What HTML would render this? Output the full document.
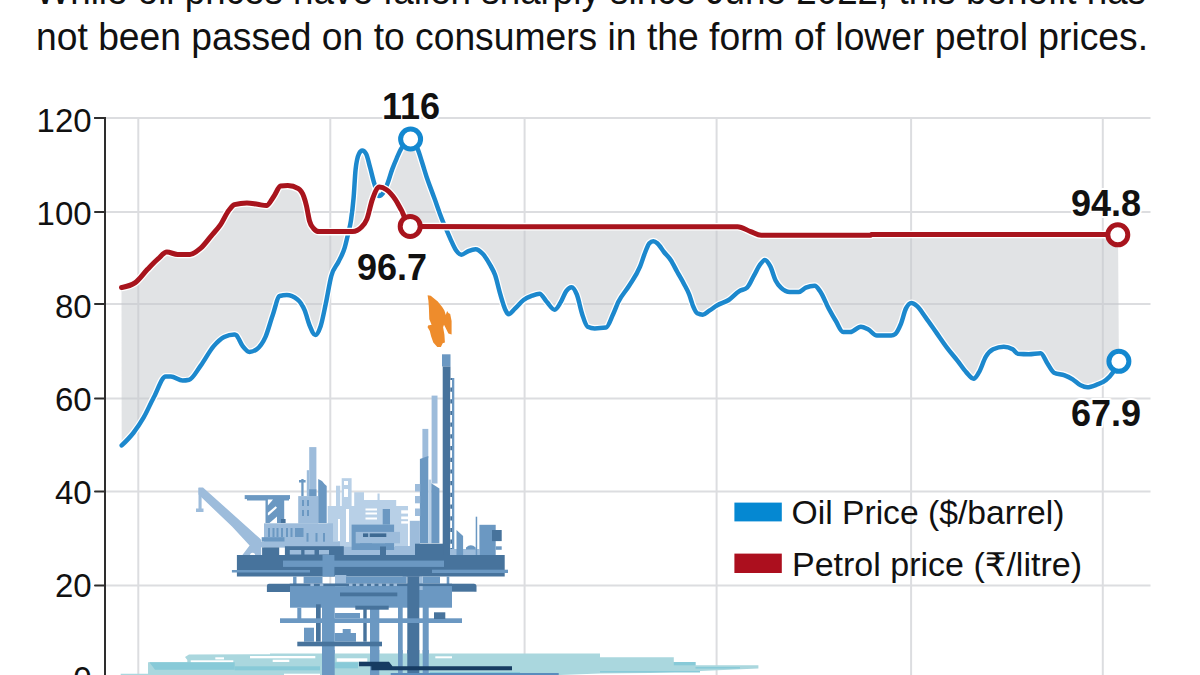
<!DOCTYPE html>
<html><head><meta charset="utf-8"><title>Oil vs petrol prices</title>
<style>
html,body{margin:0;padding:0;background:#fff;width:1200px;height:675px;overflow:hidden}
svg{display:block}
text{font-family:"Liberation Sans","DejaVu Sans",sans-serif}
</style></head><body>
<svg width="1200" height="675" viewBox="0 0 1200 675">
<g fill="#111">
<text x="35.5" y="3.8" font-size="38" textLength="1110.5" lengthAdjust="spacingAndGlyphs">While oil prices have fallen sharply since June 2022, this benefit has</text>
<text x="36" y="49.6" font-size="38" textLength="1112" lengthAdjust="spacingAndGlyphs">not been passed on to consumers in the form of lower petrol prices.</text>
</g>
<g stroke="#dcdde0" stroke-width="2">
<line x1="106" y1="117.9" x2="1150.5" y2="117.9"/>
<line x1="106" y1="211.9" x2="1150.5" y2="211.9"/>
<line x1="106" y1="304.1" x2="1150.5" y2="304.1"/>
<line x1="106" y1="398.5" x2="1150.5" y2="398.5"/>
<line x1="106" y1="491.5" x2="1150.5" y2="491.5"/>
<line x1="106" y1="585.5" x2="1150.5" y2="585.5"/>
<line x1="138.3" y1="118" x2="138.3" y2="675"/>
<line x1="330.3" y1="118" x2="330.3" y2="675"/>
<line x1="524.6" y1="118" x2="524.6" y2="675"/>
<line x1="716.6" y1="118" x2="716.6" y2="675"/>
<line x1="911.1" y1="118" x2="911.1" y2="675"/>
<line x1="1102.8" y1="118" x2="1102.8" y2="675"/>
</g>
<path d="M121.5,287.5 C126.0,286.7 130.4,286.0 134.9,282.9 C139.0,280.1 143.2,273.9 147.3,269.6 C150.9,265.9 154.4,262.0 158.0,258.9 C161.0,256.3 163.9,252.1 166.9,252.1 C170.5,252.1 174.0,254.4 177.6,254.4 C181.7,254.4 185.9,254.4 190.0,254.4 C193.6,254.4 197.1,251.3 200.7,248.2 C204.2,245.1 207.8,240.0 211.3,235.8 C214.3,232.3 217.2,229.4 220.2,225.1 C223.2,220.8 226.1,213.7 229.1,210.0 C230.9,207.8 232.6,205.2 234.4,204.7 C238.6,203.5 242.7,202.9 246.9,202.9 C250.5,202.9 254.0,203.8 257.6,204.3 C260.5,204.7 263.5,205.6 266.4,205.6 C268.8,205.6 271.2,200.0 273.6,196.7 C276.0,193.5 278.3,186.3 280.7,186.0 C283.1,185.7 285.4,185.6 287.8,185.6 C291.3,185.6 294.9,186.6 298.4,188.7 C300.2,189.8 302.0,191.7 303.8,196.7 C304.7,199.2 305.6,202.2 306.5,206.0 C307.5,210.2 308.5,217.3 309.5,221.0 C310.9,226.0 312.2,226.9 313.6,228.5 C315.4,230.6 317.1,231.6 318.9,231.6 C330.2,231.6 341.4,231.6 352.7,231.6 C355.7,231.6 358.6,230.1 361.6,227.1 C363.4,225.3 365.1,223.6 366.9,219.1 C368.7,214.5 370.5,204.7 372.3,199.6 C374.7,192.9 377.0,187.1 379.4,187.1 C381.8,187.1 384.1,188.1 386.5,189.8 C389.5,191.9 392.4,195.2 395.4,199.6 C397.4,202.5 399.3,206.5 401.3,210.0 C404.3,215.4 407.2,226.6 410.2,226.6 C519.3,226.7 628.5,226.7 737.6,226.8 C742.0,226.8 746.3,230.0 750.7,231.6 C754.2,232.9 757.8,235.3 761.3,235.3 C797.7,235.3 834.1,235.3 870.5,235.3 C870.8,235.3 871.2,234.5 871.5,234.5 C953.7,234.5 1035.8,234.6 1118.0,234.6 L1118.9,361.3 C1116.8,365.5 1114.8,369.6 1112.7,372.7 C1110.5,376.0 1108.2,378.1 1106.0,380.0 C1102.9,382.6 1099.8,383.5 1096.7,384.7 C1093.6,385.9 1090.4,387.3 1087.3,387.3 C1085.1,387.3 1082.9,386.4 1080.7,385.3 C1078.0,384.0 1075.4,381.0 1072.7,379.3 C1070.0,377.6 1067.4,376.3 1064.7,375.3 C1061.1,373.9 1057.6,374.4 1054.0,372.7 C1051.8,371.6 1049.5,366.6 1047.3,363.3 C1045.1,360.1 1042.9,353.3 1040.7,353.3 C1036.7,353.3 1032.7,354.3 1028.7,354.3 C1025.1,354.3 1021.6,354.1 1018.0,353.8 C1016.2,353.6 1014.5,350.3 1012.7,349.3 C1009.7,347.6 1006.8,346.7 1003.8,346.7 C1000.2,346.7 996.7,347.6 993.1,349.3 C990.7,350.5 988.4,352.6 986.0,356.4 C983.6,360.2 981.3,368.5 978.9,372.4 C977.1,375.3 975.4,378.7 973.6,378.7 C971.2,378.7 968.8,375.0 966.4,372.4 C963.5,369.3 960.5,364.6 957.6,360.9 C954.0,356.3 950.5,352.4 946.9,347.6 C943.3,342.9 939.8,337.5 936.2,332.4 C932.7,327.4 929.1,322.1 925.6,317.3 C922.6,313.3 919.7,308.2 916.7,305.8 C914.9,304.4 913.1,303.1 911.3,303.1 C909.5,303.1 907.8,304.9 906.0,308.4 C904.2,311.9 902.5,320.2 900.7,324.4 C898.9,328.7 897.1,332.6 895.3,334.0 C893.9,335.1 892.5,335.6 891.1,335.6 C886.4,335.6 881.6,335.6 876.9,335.6 C873.9,335.6 871.0,330.8 868.0,329.3 C865.6,328.1 863.3,326.7 860.9,326.7 C857.3,326.7 853.8,332.0 850.2,332.0 C847.8,332.0 845.5,332.0 843.1,332.0 C840.7,332.0 838.4,325.2 836.0,321.3 C833.6,317.4 831.3,313.3 828.9,308.9 C825.9,303.4 823.0,295.2 820.0,291.1 C818.2,288.7 816.5,285.8 814.7,285.8 C811.7,285.8 808.8,286.4 805.8,287.6 C803.4,288.6 801.1,292.0 798.7,292.0 C795.7,292.0 792.8,292.0 789.8,292.0 C786.8,292.0 783.9,290.5 780.9,287.6 C779.1,285.9 777.4,283.9 775.6,280.4 C773.8,276.8 772.0,269.6 770.2,266.2 C768.4,262.9 766.7,260.0 764.9,260.0 C763.1,260.0 761.4,262.8 759.6,265.3 C757.8,267.8 756.0,271.9 754.2,275.1 C751.8,279.3 749.5,285.5 747.1,287.6 C744.5,289.9 741.9,289.5 739.3,291.1 C735.8,293.3 732.2,297.7 728.7,300.0 C724.9,302.5 721.1,303.1 717.3,305.3 C714.6,306.9 712.0,309.0 709.3,310.7 C707.1,312.1 704.9,314.7 702.7,314.7 C700.9,314.7 699.1,314.2 697.3,313.3 C696.0,312.6 694.6,309.8 693.3,306.7 C692.0,303.6 690.6,298.1 689.3,294.7 C687.5,290.1 685.8,287.4 684.0,284.0 C681.8,279.7 679.5,276.0 677.3,272.0 C675.1,268.0 672.9,263.3 670.7,260.0 C668.5,256.6 666.2,254.8 664.0,252.0 C661.8,249.2 659.5,245.1 657.3,243.3 C656.0,242.2 654.6,241.3 653.3,241.3 C652.0,241.3 650.6,242.0 649.3,243.3 C648.0,244.6 646.6,248.8 645.3,252.0 C643.5,256.3 641.8,262.4 640.0,266.7 C636.4,275.6 632.7,279.9 629.1,285.8 C625.5,291.6 622.0,294.5 618.4,301.8 C616.6,305.4 614.9,310.4 613.1,314.2 C610.7,319.3 608.4,327.3 606.0,327.6 C602.2,328.1 598.5,328.4 594.7,328.4 C592.3,328.4 590.0,327.8 587.6,326.7 C585.8,325.8 584.0,319.6 582.2,314.2 C580.4,308.9 578.7,299.2 576.9,294.7 C575.1,290.2 573.4,287.2 571.6,287.2 C569.8,287.2 568.0,288.6 566.2,291.1 C564.4,293.5 562.7,298.8 560.9,301.8 C558.8,305.3 556.8,309.8 554.7,309.8 C552.0,309.8 549.4,304.6 546.7,301.8 C544.3,299.3 542.0,293.8 539.6,293.8 C537.2,293.8 534.8,294.7 532.4,295.6 C529.5,296.7 526.5,297.8 523.6,300.0 C520.6,302.2 517.7,306.2 514.7,308.9 C512.6,310.8 510.5,314.2 508.4,314.2 C507.5,314.2 506.7,312.3 505.8,310.7 C504.0,307.3 502.2,300.7 500.4,294.7 C498.6,288.8 496.9,280.2 495.1,275.1 C493.3,270.0 491.6,267.6 489.8,264.4 C487.4,260.2 485.1,256.3 482.7,253.8 C480.3,251.3 478.0,249.3 475.6,249.3 C473.2,249.3 470.8,250.2 468.4,251.1 C466.0,252.0 463.7,254.7 461.3,254.7 C459.5,254.7 457.8,252.7 456.0,250.2 C454.2,247.7 452.5,243.4 450.7,239.6 C448.9,235.7 447.1,231.3 445.3,227.1 C444.3,224.7 443.2,222.4 442.2,219.8 C439.6,213.4 437.0,205.4 434.4,198.3 C433.3,195.3 432.2,192.4 431.1,189.4 C429.6,185.4 428.2,181.6 426.7,177.2 C425.2,172.7 423.7,167.5 422.2,162.8 C420.7,158.2 419.3,153.0 417.8,149.4 C415.4,143.6 413.0,139.2 410.6,139.2 C407.4,139.2 404.3,143.3 401.1,148.9 C399.6,151.5 398.2,154.9 396.7,158.3 C395.2,161.7 393.7,165.3 392.2,169.4 C390.7,173.4 389.3,178.9 387.8,182.8 C386.3,186.8 384.8,190.6 383.3,192.8 C381.8,195.0 380.4,196.1 378.9,196.1 C377.4,196.1 375.9,188.8 374.4,183.9 C372.9,179.1 371.5,172.5 370.0,167.2 C368.7,162.5 367.4,156.1 366.1,153.9 C364.8,151.7 363.5,150.6 362.2,150.6 C361.1,150.6 360.0,151.7 358.9,153.9 C357.8,156.1 356.7,159.1 355.6,169.4 C354.9,175.7 354.3,189.9 353.6,197.8 C352.7,208.4 351.8,215.0 350.9,220.9 C350.0,226.8 349.1,229.5 348.2,233.4 C347.0,238.5 345.9,243.6 344.7,247.6 C342.6,254.7 340.6,257.4 338.5,261.8 C336.1,266.9 333.7,267.1 331.3,276.0 C329.5,282.7 327.7,294.7 325.9,303.1 C324.1,311.4 322.4,320.9 320.6,326.2 C318.8,331.5 317.1,335.1 315.3,335.1 C313.5,335.1 311.7,330.4 309.9,326.2 C308.1,322.1 306.4,314.4 304.6,310.2 C302.2,304.6 299.9,301.4 297.5,299.5 C293.9,296.6 290.4,295.1 286.8,295.1 C284.4,295.1 282.1,295.4 279.7,296.0 C277.3,296.6 275.0,308.7 272.6,315.5 C270.2,322.3 267.9,331.4 265.5,336.8 C262.5,343.6 259.6,347.1 256.6,349.3 C254.2,351.0 251.9,351.9 249.5,351.9 C247.1,351.9 244.8,348.8 242.4,345.7 C240.3,343.0 238.3,336.5 236.2,335.1 C235.6,334.7 235.0,334.4 234.4,334.4 C231.0,334.4 227.5,335.3 224.1,337.0 C220.6,338.8 217.2,342.1 213.7,346.1 C209.4,351.1 205.0,359.7 200.7,365.6 C196.8,370.8 193.0,378.8 189.1,379.8 C186.9,380.3 184.8,380.6 182.6,380.6 C178.7,380.6 174.8,376.4 170.9,376.4 C169.2,376.4 167.4,376.4 165.7,376.4 C161.8,376.4 158.0,389.4 154.1,396.7 C150.6,403.2 147.2,411.3 143.7,417.4 C140.2,423.4 136.8,428.5 133.3,433.0 C129.4,438.0 125.6,441.7 121.7,445.4 Z" fill="#c4c7cc" fill-opacity="0.5"/>
<g id="rig">
<rect x="327.7" y="506.0" width="72.3" height="49.0" fill="#b8d0e7"/>
<rect x="336.0" y="485.7" width="4.2" height="20.3" fill="#b8d0e7"/>
<rect x="341.7" y="478.2" width="9.9" height="27.8" fill="#b8d0e7"/>
<rect x="354.2" y="492.2" width="9.8" height="13.8" fill="#b8d0e7"/>
<rect x="364.0" y="500.0" width="32.2" height="6.0" fill="#b8d0e7"/>
<rect x="377.5" y="493.5" width="2.1" height="6.5" fill="#b8d0e7"/>
<rect x="395.0" y="506.0" width="13.0" height="42.0" fill="#b8d0e7"/>
<rect x="395.0" y="546.0" width="20.0" height="9.0" fill="#9dbcdb"/>
<rect x="401.2" y="510.3" width="7.3" height="3.3" fill="#ffffff"/>
<rect x="401.2" y="516.5" width="7.3" height="2.7" fill="#ffffff"/>
<rect x="401.2" y="521.2" width="7.3" height="2.4" fill="#ffffff"/>
<rect x="327.7" y="546.8" width="67.3" height="8.2" fill="#9dbcdb"/>
<rect x="344.0" y="481.0" width="4.0" height="4.0" fill="#ffffff"/>
<rect x="344.0" y="489.0" width="4.0" height="8.0" fill="#ffffff"/>
<rect x="338.0" y="519.0" width="2.0" height="22.0" fill="#ffffff"/>
<rect x="346.0" y="509.0" width="3.0" height="33.0" fill="#ffffff"/>
<rect x="365.5" y="508.5" width="11.5" height="2.0" fill="#ffffff"/>
<rect x="365.5" y="512.5" width="11.5" height="2.0" fill="#ffffff"/>
<rect x="365.5" y="517.5" width="11.5" height="2.0" fill="#ffffff"/>
<polygon points="198.5,487.5 203.0,487.5 260.0,538.5 261.2,540.0 261.2,555.1 242.4,555.1 249.6,545.5 232.0,526.6 198.5,494.5" fill="#9dbcdb"/>
<circle cx="252.6" cy="555.3" r="2.6" fill="#fff"/>
<rect x="198.5" y="488.0" width="3.1" height="23.0" fill="#9dbcdb"/>
<rect x="196.0" y="508.5" width="7.5" height="3.5" fill="#9dbcdb"/>
<rect x="244.7" y="495.1" width="45.3" height="4.0" fill="#6b98c2"/>
<rect x="247.0" y="499.0" width="42.0" height="1.5" fill="#6b98c2"/>
<rect x="265.5" y="499.5" width="18.7" height="23.5" fill="#6b98c2"/>
<polygon points="267.9,499.5 273.0,499.5 267.9,505.5" fill="#ffffff"/>
<polygon points="267.9,512.8 275.6,506.3 277.0,507.8 268.7,515.3 267.9,515.3" fill="#ffffff"/>
<polygon points="269.5,523.0 277.0,516.5 277.0,523.0" fill="#ffffff"/>
<rect x="280.9" y="519.0" width="4.7" height="4.0" fill="#47739c"/>
<rect x="306.8" y="470.2" width="2.4" height="25.9" fill="#9dbcdb"/>
<rect x="309.2" y="447.1" width="7.2" height="49.0" fill="#9dbcdb"/>
<rect x="309.2" y="489.3" width="7.2" height="7.3" fill="#6b98c2"/>
<rect x="301.3" y="479.0" width="2.3" height="17.1" fill="#6b98c2"/>
<rect x="299.0" y="480.0" width="6.6" height="2.5" fill="#6b98c2"/>
<polygon points="318.2,479.0 322.0,481.0 324.5,484.0 326.7,486.0 326.7,523.0 318.2,523.0" fill="#6b98c2"/>
<rect x="298.2" y="496.1" width="19.8" height="27.5" fill="#9dbcdb"/>
<rect x="302.0" y="500.0" width="2.0" height="6.0" fill="#6b98c2"/>
<rect x="307.0" y="500.0" width="2.0" height="6.0" fill="#6b98c2"/>
<rect x="302.0" y="510.0" width="2.0" height="6.0" fill="#6b98c2"/>
<rect x="307.0" y="510.0" width="2.0" height="6.0" fill="#6b98c2"/>
<rect x="264.0" y="523.3" width="69.0" height="24.1" fill="#9dbcdb"/>
<rect x="268.0" y="528.0" width="2.0" height="9.0" fill="#6b98c2"/>
<rect x="272.5" y="528.0" width="2.0" height="9.0" fill="#6b98c2"/>
<rect x="276.5" y="528.0" width="2.0" height="9.0" fill="#6b98c2"/>
<rect x="281.0" y="528.0" width="2.0" height="9.0" fill="#6b98c2"/>
<rect x="286.0" y="528.0" width="2.0" height="9.0" fill="#6b98c2"/>
<rect x="290.5" y="528.0" width="2.0" height="9.0" fill="#6b98c2"/>
<rect x="295.0" y="528.0" width="2.0" height="9.0" fill="#6b98c2"/>
<rect x="301.5" y="528.0" width="2.0" height="9.0" fill="#6b98c2"/>
<rect x="296.0" y="528.0" width="6.0" height="9.0" fill="#6b98c2"/>
<rect x="306.5" y="533.0" width="2.0" height="13.0" fill="#6b98c2"/>
<rect x="315.5" y="533.0" width="2.0" height="13.0" fill="#6b98c2"/>
<rect x="323.0" y="533.0" width="2.0" height="13.0" fill="#6b98c2"/>
<rect x="261.7" y="537.2" width="22.8" height="4.5" fill="#6b98c2"/>
<rect x="260.9" y="541.7" width="79.1" height="5.7" fill="#9dbcdb"/>
<rect x="262.1" y="547.4" width="17.1" height="7.7" fill="#47739c"/>
<rect x="284.9" y="546.2" width="58.9" height="8.9" fill="#47739c"/>
<rect x="289.8" y="550.0" width="11.4" height="4.5" fill="#9dbcdb"/>
<rect x="304.5" y="550.0" width="10.0" height="4.5" fill="#9dbcdb"/>
<rect x="319.0" y="550.0" width="10.0" height="4.5" fill="#9dbcdb"/>
<rect x="351.6" y="524.6" width="42.5" height="25.4" fill="#6b98c2"/>
<rect x="382.7" y="509.0" width="7.3" height="15.6" fill="#6b98c2"/>
<rect x="355.7" y="531.9" width="44.3" height="11.4" fill="#9dbcdb"/>
<rect x="363.0" y="533.4" width="5.2" height="3.6" fill="#3e6a93"/>
<rect x="369.7" y="533.4" width="16.6" height="3.6" fill="#3e6a93"/>
<rect x="360.0" y="543.3" width="12.0" height="6.7" fill="#6b98c2"/>
<rect x="385.0" y="543.3" width="9.0" height="6.7" fill="#6b98c2"/>
<rect x="380.0" y="546.5" width="6.0" height="8.5" fill="#47739c"/>
<rect x="422.4" y="428.9" width="5.9" height="29.1" fill="#9dbcdb"/>
<rect x="431.6" y="395.6" width="5.9" height="87.9" fill="#9dbcdb"/>
<polygon points="419.9,458.9 428.3,455.9 428.3,543.3 419.9,543.3" fill="#6b98c2"/>
<rect x="428.3" y="479.6" width="3.0" height="63.7" fill="#b8d0e7"/>
<polygon points="431.3,483.3 439.4,488.5 439.4,543.3 431.3,543.3" fill="#6b98c2"/>
<rect x="409.8" y="520.8" width="10.1" height="27.2" fill="#9dbcdb"/>
<rect x="415.0" y="484.0" width="5.2" height="7.5" fill="#9dbcdb"/>
<rect x="415.0" y="496.0" width="5.2" height="7.3" fill="#9dbcdb"/>
<rect x="415.0" y="508.5" width="5.2" height="7.5" fill="#9dbcdb"/>
<rect x="442.0" y="354.3" width="8.5" height="12.2" fill="#6b98c2"/>
<rect x="442.7" y="366.5" width="7.8" height="188.5" fill="#47739c"/>
<rect x="450.5" y="378.0" width="1.5" height="177.0" fill="#47739c"/>
<rect x="452.0" y="378.0" width="2.3" height="177.0" fill="#6b98c2"/>
<line x1="451.1" y1="380" x2="451.1" y2="548" stroke="#ffffff" stroke-width="1.8" stroke-dasharray="7.5,4.2"/>
<polygon points="427.6,295.3 430.7,295.8 437.8,301.6 442.2,306.9 444.4,310.4 445.8,314.9 447.1,310.9 448.4,313.1 450.2,314 451.6,321.1 451.6,334.4 448.4,333.6 445.8,328.2 444,324.7 443.1,327.3 444.4,334.4 444.9,342.4 442.7,343.3 440.9,346.9 437.3,346.9 433.3,342.4 431.1,336.2 429.8,330.9 427.6,327.3 428,325.6 431.6,324.7 429.3,319.3 428.9,307.8 428.4,300.7" fill="#ee8c2c"/>
<rect x="415.0" y="543.7" width="28.9" height="11.3" fill="#47739c"/>
<rect x="450.0" y="549.0" width="29.4" height="6.0" fill="#9dbcdb"/>
<polygon points="456.5,530.0 463.1,536.0 463.1,555.0 456.5,555.0" fill="#6b98c2"/>
<rect x="475.7" y="516.7" width="1.5" height="38.3" fill="#6b98c2"/>
<path d="M466,549.5 L466,547.5 Q470.8,543 475.7,547.5 L475.7,549.5 Z" fill="#6b98c2"/>
<rect x="479.4" y="524.8" width="16.3" height="30.2" fill="#6b98c2"/>
<rect x="492.0" y="530.0" width="9.7" height="11.1" fill="#47739c"/>
<rect x="495.7" y="546.3" width="6.0" height="3.5" fill="#6b98c2"/>
<rect x="236.9" y="555.0" width="267.8" height="21.5" fill="#47739c"/>
<rect x="283.0" y="560.6" width="161.0" height="6.3" fill="#6b98c2"/>
<rect x="231.9" y="570.0" width="78.1" height="2.5" fill="#6b98c2"/>
<rect x="432.0" y="569.7" width="76.0" height="3.3" fill="#6b98c2"/>
<rect x="322.5" y="555.0" width="11.9" height="21.5" fill="#6b98c2"/>
<rect x="402.7" y="567.0" width="19.3" height="9.5" fill="#47739c"/>
<path d="M269,583.8 H290 V591.9 H266.9 V586 Q266.9,583.8 269,583.8 Z" fill="#47739c"/>
<rect x="290.0" y="585.7" width="162.0" height="22.0" fill="#6b98c2"/>
<rect x="452.0" y="583.7" width="22.0" height="8.0" fill="#47739c"/>
<path d="M474,583.7 Q476.5,583.7 476.5,586.5 V591.7 H474 Z" fill="#47739c"/>
<rect x="335.0" y="575.0" width="11.3" height="11.3" fill="#9dbcdb"/>
<rect x="293.1" y="576.5" width="3.4" height="9.5" fill="#6b98c2"/>
<rect x="303.6" y="576.5" width="18.9" height="7.0" fill="#6b98c2"/>
<rect x="346.0" y="576.5" width="60.7" height="7.1" fill="#6b98c2"/>
<rect x="422.7" y="576.5" width="17.3" height="7.1" fill="#6b98c2"/>
<rect x="419.3" y="576.5" width="3.4" height="13.5" fill="#9dbcdb"/>
<rect x="446.7" y="576.5" width="2.6" height="7.5" fill="#6b98c2"/>
<rect x="289.8" y="583.5" width="162.2" height="2.6" fill="#47739c"/>
<rect x="310.4" y="583.6" width="3.5" height="2.5" fill="#9dbcdb"/>
<rect x="319.8" y="583.6" width="3.5" height="2.5" fill="#9dbcdb"/>
<rect x="349.0" y="583.6" width="3.5" height="2.5" fill="#9dbcdb"/>
<rect x="356.0" y="583.6" width="3.5" height="2.5" fill="#9dbcdb"/>
<rect x="363.5" y="583.6" width="3.5" height="2.5" fill="#9dbcdb"/>
<rect x="371.0" y="583.6" width="3.5" height="2.5" fill="#9dbcdb"/>
<rect x="378.5" y="583.6" width="3.5" height="2.5" fill="#9dbcdb"/>
<rect x="386.0" y="583.6" width="3.5" height="2.5" fill="#9dbcdb"/>
<rect x="393.5" y="583.6" width="3.5" height="2.5" fill="#9dbcdb"/>
<rect x="340.0" y="592.5" width="57.3" height="3.8" fill="#47739c"/>
<rect x="407.3" y="576.5" width="12.0" height="98.5" fill="#47739c"/>
<rect x="322.0" y="607.0" width="12.7" height="68.0" fill="#6b98c2"/>
<rect x="370.0" y="607.0" width="9.3" height="68.0" fill="#6b98c2"/>
<rect x="398.0" y="607.0" width="4.7" height="68.0" fill="#6b98c2"/>
<rect x="422.7" y="607.0" width="6.0" height="68.0" fill="#6b98c2"/>
<rect x="316.0" y="604.3" width="4.7" height="37.4" fill="#47739c"/>
<rect x="363.3" y="608.0" width="3.4" height="33.7" fill="#47739c"/>
<rect x="297.3" y="607.7" width="4.0" height="11.3" fill="#6b98c2"/>
<rect x="280.0" y="618.3" width="182.0" height="4.7" fill="#6b98c2"/>
<rect x="355.3" y="605.7" width="33.4" height="4.0" fill="#47739c"/>
<rect x="434.0" y="612.3" width="11.3" height="6.7" fill="#47739c"/>
<rect x="304.0" y="627.7" width="10.0" height="14.0" fill="#6b98c2"/>
<rect x="334.7" y="633.0" width="21.3" height="8.7" fill="#6b98c2"/>
<rect x="342.7" y="629.0" width="8.0" height="4.0" fill="#6b98c2"/>
<rect x="334.7" y="613.0" width="25.3" height="5.3" fill="#6b98c2"/>
<rect x="297.3" y="641.7" width="84.7" height="4.6" fill="#47739c"/>
<polygon points="185.0,657.0 189.0,654.5 270.0,654.3 270.0,653.5 600.0,653.4 600.0,657.3 673.8,657.3 673.8,662.0 695.5,662.0 695.5,665.3 758.4,665.3 758.4,668.6 700.0,671.0 650.0,673.0 600.0,673.5 560.0,675.0 120.7,675.0 120.7,673.7 148.0,673.7 148.0,662.3 187.3,662.3 187.3,660.0" fill="#aad7de"/>
<polygon points="149.3,662.3 234.7,662.3 234.7,669.7 155.0,669.7 153.0,667.0" fill="#88cad8"/>
<rect x="234.7" y="666.3" width="85.3" height="4.0" fill="#88cad8"/>
<rect x="334.7" y="662.3" width="23.3" height="6.0" fill="#88cad8"/>
<rect x="673.8" y="662.0" width="21.7" height="3.3" fill="#88cad8"/>
<rect x="695.5" y="667.0" width="44.5" height="1.6" fill="#88cad8"/>
<rect x="430.0" y="672.0" width="90.0" height="1.5" fill="#88cad8"/>
<rect x="600.0" y="671.0" width="100.0" height="1.5" fill="#88cad8"/>
<rect x="190.7" y="660.3" width="42.6" height="1.8" fill="#ffffff"/>
<rect x="250.0" y="656.0" width="65.3" height="2.3" fill="#ffffff"/>
<rect x="215.3" y="657.3" width="8.7" height="2.1" fill="#ffffff"/>
<rect x="272.7" y="659.7" width="16.6" height="2.3" fill="#ffffff"/>
<rect x="336.7" y="658.3" width="30.6" height="3.4" fill="#ffffff"/>
<rect x="435.3" y="656.3" width="16.7" height="2.0" fill="#ffffff"/>
<rect x="284.0" y="673.7" width="36.0" height="1.3" fill="#ffffff"/>
<rect x="322.0" y="650.0" width="12.7" height="25.0" fill="#6b98c2"/>
<rect x="370.0" y="650.0" width="9.3" height="25.0" fill="#6b98c2"/>
<rect x="398.0" y="650.0" width="4.7" height="25.0" fill="#6b98c2"/>
<rect x="407.3" y="650.0" width="12.0" height="25.0" fill="#47739c"/>
<rect x="422.7" y="650.0" width="6.0" height="25.0" fill="#6b98c2"/>
<polygon points="359,661.7 389,661.7 392.5,666.3 512,666.3 512,670.3 371.3,670.3 371.3,666.3 359,666.3" fill="#163b62"/>
<rect x="390.7" y="673" width="168" height="2" fill="#5a8cbd"/>
</g>
<g stroke="#dedfe1" stroke-width="1.6" opacity="0">
</g>
<g stroke="#2e2e2e" stroke-width="2" stroke-linecap="round" fill="none">
<path d="M95,117.9 H105 V676"/>
<line x1="95" y1="117.9" x2="105" y2="117.9"/>
<line x1="95" y1="211.9" x2="105" y2="211.9"/>
<line x1="95" y1="304.1" x2="105" y2="304.1"/>
<line x1="95" y1="398.5" x2="105" y2="398.5"/>
<line x1="95" y1="491.5" x2="105" y2="491.5"/>
<line x1="95" y1="585.5" x2="105" y2="585.5"/>
<line x1="95" y1="679.0" x2="105" y2="679.0"/>
</g>
<g font-size="33" fill="#111" text-anchor="end">
<text x="91.6" y="132.4">120</text>
<text x="91.6" y="225.4">100</text>
<text x="91.6" y="318.4">80</text>
<text x="91.6" y="411.4">60</text>
<text x="91.6" y="504.4">40</text>
<text x="91.6" y="597.4">20</text>
<text x="91.6" y="690.4">0</text>
</g>
<path d="M121.7,445.4 C125.6,441.7 129.4,438.0 133.3,433.0 C136.8,428.5 140.2,423.4 143.7,417.4 C147.2,411.3 150.6,403.2 154.1,396.7 C158.0,389.4 161.8,376.4 165.7,376.4 C167.4,376.4 169.2,376.4 170.9,376.4 C174.8,376.4 178.7,380.6 182.6,380.6 C184.8,380.6 186.9,380.3 189.1,379.8 C193.0,378.8 196.8,370.8 200.7,365.6 C205.0,359.7 209.4,351.1 213.7,346.1 C217.2,342.1 220.6,338.8 224.1,337.0 C227.5,335.3 231.0,334.4 234.4,334.4 C235.0,334.4 235.6,334.7 236.2,335.1 C238.3,336.5 240.3,343.0 242.4,345.7 C244.8,348.8 247.1,351.9 249.5,351.9 C251.9,351.9 254.2,351.0 256.6,349.3 C259.6,347.1 262.5,343.6 265.5,336.8 C267.9,331.4 270.2,322.3 272.6,315.5 C275.0,308.7 277.3,296.6 279.7,296.0 C282.1,295.4 284.4,295.1 286.8,295.1 C290.4,295.1 293.9,296.6 297.5,299.5 C299.9,301.4 302.2,304.6 304.6,310.2 C306.4,314.4 308.1,322.1 309.9,326.2 C311.7,330.4 313.5,335.1 315.3,335.1 C317.1,335.1 318.8,331.5 320.6,326.2 C322.4,320.9 324.1,311.4 325.9,303.1 C327.7,294.7 329.5,282.7 331.3,276.0 C333.7,267.1 336.1,266.9 338.5,261.8 C340.6,257.4 342.6,254.7 344.7,247.6 C345.9,243.6 347.0,238.5 348.2,233.4 C349.1,229.5 350.0,226.8 350.9,220.9 C351.8,215.0 352.7,208.4 353.6,197.8 C354.3,189.9 354.9,175.7 355.6,169.4 C356.7,159.1 357.8,156.1 358.9,153.9 C360.0,151.7 361.1,150.6 362.2,150.6 C363.5,150.6 364.8,151.7 366.1,153.9 C367.4,156.1 368.7,162.5 370.0,167.2 C371.5,172.5 372.9,179.1 374.4,183.9 C375.9,188.8 377.4,196.1 378.9,196.1 C380.4,196.1 381.8,195.0 383.3,192.8 C384.8,190.6 386.3,186.8 387.8,182.8 C389.3,178.9 390.7,173.4 392.2,169.4 C393.7,165.3 395.2,161.7 396.7,158.3 C398.2,154.9 399.6,151.5 401.1,148.9 C404.3,143.3 407.4,139.2 410.6,139.2 C413.0,139.2 415.4,143.6 417.8,149.4 C419.3,153.0 420.7,158.2 422.2,162.8 C423.7,167.5 425.2,172.7 426.7,177.2 C428.2,181.6 429.6,185.4 431.1,189.4 C432.2,192.4 433.3,195.3 434.4,198.3 C437.0,205.4 439.6,213.4 442.2,219.8 C443.2,222.4 444.3,224.7 445.3,227.1 C447.1,231.3 448.9,235.7 450.7,239.6 C452.5,243.4 454.2,247.7 456.0,250.2 C457.8,252.7 459.5,254.7 461.3,254.7 C463.7,254.7 466.0,252.0 468.4,251.1 C470.8,250.2 473.2,249.3 475.6,249.3 C478.0,249.3 480.3,251.3 482.7,253.8 C485.1,256.3 487.4,260.2 489.8,264.4 C491.6,267.6 493.3,270.0 495.1,275.1 C496.9,280.2 498.6,288.8 500.4,294.7 C502.2,300.7 504.0,307.3 505.8,310.7 C506.7,312.3 507.5,314.2 508.4,314.2 C510.5,314.2 512.6,310.8 514.7,308.9 C517.7,306.2 520.6,302.2 523.6,300.0 C526.5,297.8 529.5,296.7 532.4,295.6 C534.8,294.7 537.2,293.8 539.6,293.8 C542.0,293.8 544.3,299.3 546.7,301.8 C549.4,304.6 552.0,309.8 554.7,309.8 C556.8,309.8 558.8,305.3 560.9,301.8 C562.7,298.8 564.4,293.5 566.2,291.1 C568.0,288.6 569.8,287.2 571.6,287.2 C573.4,287.2 575.1,290.2 576.9,294.7 C578.7,299.2 580.4,308.9 582.2,314.2 C584.0,319.6 585.8,325.8 587.6,326.7 C590.0,327.8 592.3,328.4 594.7,328.4 C598.5,328.4 602.2,328.1 606.0,327.6 C608.4,327.3 610.7,319.3 613.1,314.2 C614.9,310.4 616.6,305.4 618.4,301.8 C622.0,294.5 625.5,291.6 629.1,285.8 C632.7,279.9 636.4,275.6 640.0,266.7 C641.8,262.4 643.5,256.3 645.3,252.0 C646.6,248.8 648.0,244.6 649.3,243.3 C650.6,242.0 652.0,241.3 653.3,241.3 C654.6,241.3 656.0,242.2 657.3,243.3 C659.5,245.1 661.8,249.2 664.0,252.0 C666.2,254.8 668.5,256.6 670.7,260.0 C672.9,263.3 675.1,268.0 677.3,272.0 C679.5,276.0 681.8,279.7 684.0,284.0 C685.8,287.4 687.5,290.1 689.3,294.7 C690.6,298.1 692.0,303.6 693.3,306.7 C694.6,309.8 696.0,312.6 697.3,313.3 C699.1,314.2 700.9,314.7 702.7,314.7 C704.9,314.7 707.1,312.1 709.3,310.7 C712.0,309.0 714.6,306.9 717.3,305.3 C721.1,303.1 724.9,302.5 728.7,300.0 C732.2,297.7 735.8,293.3 739.3,291.1 C741.9,289.5 744.5,289.9 747.1,287.6 C749.5,285.5 751.8,279.3 754.2,275.1 C756.0,271.9 757.8,267.8 759.6,265.3 C761.4,262.8 763.1,260.0 764.9,260.0 C766.7,260.0 768.4,262.9 770.2,266.2 C772.0,269.6 773.8,276.8 775.6,280.4 C777.4,283.9 779.1,285.9 780.9,287.6 C783.9,290.5 786.8,292.0 789.8,292.0 C792.8,292.0 795.7,292.0 798.7,292.0 C801.1,292.0 803.4,288.6 805.8,287.6 C808.8,286.4 811.7,285.8 814.7,285.8 C816.5,285.8 818.2,288.7 820.0,291.1 C823.0,295.2 825.9,303.4 828.9,308.9 C831.3,313.3 833.6,317.4 836.0,321.3 C838.4,325.2 840.7,332.0 843.1,332.0 C845.5,332.0 847.8,332.0 850.2,332.0 C853.8,332.0 857.3,326.7 860.9,326.7 C863.3,326.7 865.6,328.1 868.0,329.3 C871.0,330.8 873.9,335.6 876.9,335.6 C881.6,335.6 886.4,335.6 891.1,335.6 C892.5,335.6 893.9,335.1 895.3,334.0 C897.1,332.6 898.9,328.7 900.7,324.4 C902.5,320.2 904.2,311.9 906.0,308.4 C907.8,304.9 909.5,303.1 911.3,303.1 C913.1,303.1 914.9,304.4 916.7,305.8 C919.7,308.2 922.6,313.3 925.6,317.3 C929.1,322.1 932.7,327.4 936.2,332.4 C939.8,337.5 943.3,342.9 946.9,347.6 C950.5,352.4 954.0,356.3 957.6,360.9 C960.5,364.6 963.5,369.3 966.4,372.4 C968.8,375.0 971.2,378.7 973.6,378.7 C975.4,378.7 977.1,375.3 978.9,372.4 C981.3,368.5 983.6,360.2 986.0,356.4 C988.4,352.6 990.7,350.5 993.1,349.3 C996.7,347.6 1000.2,346.7 1003.8,346.7 C1006.8,346.7 1009.7,347.6 1012.7,349.3 C1014.5,350.3 1016.2,353.6 1018.0,353.8 C1021.6,354.1 1025.1,354.3 1028.7,354.3 C1032.7,354.3 1036.7,353.3 1040.7,353.3 C1042.9,353.3 1045.1,360.1 1047.3,363.3 C1049.5,366.6 1051.8,371.6 1054.0,372.7 C1057.6,374.4 1061.1,373.9 1064.7,375.3 C1067.4,376.3 1070.0,377.6 1072.7,379.3 C1075.4,381.0 1078.0,384.0 1080.7,385.3 C1082.9,386.4 1085.1,387.3 1087.3,387.3 C1090.4,387.3 1093.6,385.9 1096.7,384.7 C1099.8,383.5 1102.9,382.6 1106.0,380.0 C1108.2,378.1 1110.5,376.0 1112.7,372.7 C1114.8,369.6 1116.8,365.5 1118.9,361.3" fill="none" stroke="#fff" stroke-width="7" stroke-linejoin="round"/>
<path d="M121.7,445.4 C125.6,441.7 129.4,438.0 133.3,433.0 C136.8,428.5 140.2,423.4 143.7,417.4 C147.2,411.3 150.6,403.2 154.1,396.7 C158.0,389.4 161.8,376.4 165.7,376.4 C167.4,376.4 169.2,376.4 170.9,376.4 C174.8,376.4 178.7,380.6 182.6,380.6 C184.8,380.6 186.9,380.3 189.1,379.8 C193.0,378.8 196.8,370.8 200.7,365.6 C205.0,359.7 209.4,351.1 213.7,346.1 C217.2,342.1 220.6,338.8 224.1,337.0 C227.5,335.3 231.0,334.4 234.4,334.4 C235.0,334.4 235.6,334.7 236.2,335.1 C238.3,336.5 240.3,343.0 242.4,345.7 C244.8,348.8 247.1,351.9 249.5,351.9 C251.9,351.9 254.2,351.0 256.6,349.3 C259.6,347.1 262.5,343.6 265.5,336.8 C267.9,331.4 270.2,322.3 272.6,315.5 C275.0,308.7 277.3,296.6 279.7,296.0 C282.1,295.4 284.4,295.1 286.8,295.1 C290.4,295.1 293.9,296.6 297.5,299.5 C299.9,301.4 302.2,304.6 304.6,310.2 C306.4,314.4 308.1,322.1 309.9,326.2 C311.7,330.4 313.5,335.1 315.3,335.1 C317.1,335.1 318.8,331.5 320.6,326.2 C322.4,320.9 324.1,311.4 325.9,303.1 C327.7,294.7 329.5,282.7 331.3,276.0 C333.7,267.1 336.1,266.9 338.5,261.8 C340.6,257.4 342.6,254.7 344.7,247.6 C345.9,243.6 347.0,238.5 348.2,233.4 C349.1,229.5 350.0,226.8 350.9,220.9 C351.8,215.0 352.7,208.4 353.6,197.8 C354.3,189.9 354.9,175.7 355.6,169.4 C356.7,159.1 357.8,156.1 358.9,153.9 C360.0,151.7 361.1,150.6 362.2,150.6 C363.5,150.6 364.8,151.7 366.1,153.9 C367.4,156.1 368.7,162.5 370.0,167.2 C371.5,172.5 372.9,179.1 374.4,183.9 C375.9,188.8 377.4,196.1 378.9,196.1 C380.4,196.1 381.8,195.0 383.3,192.8 C384.8,190.6 386.3,186.8 387.8,182.8 C389.3,178.9 390.7,173.4 392.2,169.4 C393.7,165.3 395.2,161.7 396.7,158.3 C398.2,154.9 399.6,151.5 401.1,148.9 C404.3,143.3 407.4,139.2 410.6,139.2 C413.0,139.2 415.4,143.6 417.8,149.4 C419.3,153.0 420.7,158.2 422.2,162.8 C423.7,167.5 425.2,172.7 426.7,177.2 C428.2,181.6 429.6,185.4 431.1,189.4 C432.2,192.4 433.3,195.3 434.4,198.3 C437.0,205.4 439.6,213.4 442.2,219.8 C443.2,222.4 444.3,224.7 445.3,227.1 C447.1,231.3 448.9,235.7 450.7,239.6 C452.5,243.4 454.2,247.7 456.0,250.2 C457.8,252.7 459.5,254.7 461.3,254.7 C463.7,254.7 466.0,252.0 468.4,251.1 C470.8,250.2 473.2,249.3 475.6,249.3 C478.0,249.3 480.3,251.3 482.7,253.8 C485.1,256.3 487.4,260.2 489.8,264.4 C491.6,267.6 493.3,270.0 495.1,275.1 C496.9,280.2 498.6,288.8 500.4,294.7 C502.2,300.7 504.0,307.3 505.8,310.7 C506.7,312.3 507.5,314.2 508.4,314.2 C510.5,314.2 512.6,310.8 514.7,308.9 C517.7,306.2 520.6,302.2 523.6,300.0 C526.5,297.8 529.5,296.7 532.4,295.6 C534.8,294.7 537.2,293.8 539.6,293.8 C542.0,293.8 544.3,299.3 546.7,301.8 C549.4,304.6 552.0,309.8 554.7,309.8 C556.8,309.8 558.8,305.3 560.9,301.8 C562.7,298.8 564.4,293.5 566.2,291.1 C568.0,288.6 569.8,287.2 571.6,287.2 C573.4,287.2 575.1,290.2 576.9,294.7 C578.7,299.2 580.4,308.9 582.2,314.2 C584.0,319.6 585.8,325.8 587.6,326.7 C590.0,327.8 592.3,328.4 594.7,328.4 C598.5,328.4 602.2,328.1 606.0,327.6 C608.4,327.3 610.7,319.3 613.1,314.2 C614.9,310.4 616.6,305.4 618.4,301.8 C622.0,294.5 625.5,291.6 629.1,285.8 C632.7,279.9 636.4,275.6 640.0,266.7 C641.8,262.4 643.5,256.3 645.3,252.0 C646.6,248.8 648.0,244.6 649.3,243.3 C650.6,242.0 652.0,241.3 653.3,241.3 C654.6,241.3 656.0,242.2 657.3,243.3 C659.5,245.1 661.8,249.2 664.0,252.0 C666.2,254.8 668.5,256.6 670.7,260.0 C672.9,263.3 675.1,268.0 677.3,272.0 C679.5,276.0 681.8,279.7 684.0,284.0 C685.8,287.4 687.5,290.1 689.3,294.7 C690.6,298.1 692.0,303.6 693.3,306.7 C694.6,309.8 696.0,312.6 697.3,313.3 C699.1,314.2 700.9,314.7 702.7,314.7 C704.9,314.7 707.1,312.1 709.3,310.7 C712.0,309.0 714.6,306.9 717.3,305.3 C721.1,303.1 724.9,302.5 728.7,300.0 C732.2,297.7 735.8,293.3 739.3,291.1 C741.9,289.5 744.5,289.9 747.1,287.6 C749.5,285.5 751.8,279.3 754.2,275.1 C756.0,271.9 757.8,267.8 759.6,265.3 C761.4,262.8 763.1,260.0 764.9,260.0 C766.7,260.0 768.4,262.9 770.2,266.2 C772.0,269.6 773.8,276.8 775.6,280.4 C777.4,283.9 779.1,285.9 780.9,287.6 C783.9,290.5 786.8,292.0 789.8,292.0 C792.8,292.0 795.7,292.0 798.7,292.0 C801.1,292.0 803.4,288.6 805.8,287.6 C808.8,286.4 811.7,285.8 814.7,285.8 C816.5,285.8 818.2,288.7 820.0,291.1 C823.0,295.2 825.9,303.4 828.9,308.9 C831.3,313.3 833.6,317.4 836.0,321.3 C838.4,325.2 840.7,332.0 843.1,332.0 C845.5,332.0 847.8,332.0 850.2,332.0 C853.8,332.0 857.3,326.7 860.9,326.7 C863.3,326.7 865.6,328.1 868.0,329.3 C871.0,330.8 873.9,335.6 876.9,335.6 C881.6,335.6 886.4,335.6 891.1,335.6 C892.5,335.6 893.9,335.1 895.3,334.0 C897.1,332.6 898.9,328.7 900.7,324.4 C902.5,320.2 904.2,311.9 906.0,308.4 C907.8,304.9 909.5,303.1 911.3,303.1 C913.1,303.1 914.9,304.4 916.7,305.8 C919.7,308.2 922.6,313.3 925.6,317.3 C929.1,322.1 932.7,327.4 936.2,332.4 C939.8,337.5 943.3,342.9 946.9,347.6 C950.5,352.4 954.0,356.3 957.6,360.9 C960.5,364.6 963.5,369.3 966.4,372.4 C968.8,375.0 971.2,378.7 973.6,378.7 C975.4,378.7 977.1,375.3 978.9,372.4 C981.3,368.5 983.6,360.2 986.0,356.4 C988.4,352.6 990.7,350.5 993.1,349.3 C996.7,347.6 1000.2,346.7 1003.8,346.7 C1006.8,346.7 1009.7,347.6 1012.7,349.3 C1014.5,350.3 1016.2,353.6 1018.0,353.8 C1021.6,354.1 1025.1,354.3 1028.7,354.3 C1032.7,354.3 1036.7,353.3 1040.7,353.3 C1042.9,353.3 1045.1,360.1 1047.3,363.3 C1049.5,366.6 1051.8,371.6 1054.0,372.7 C1057.6,374.4 1061.1,373.9 1064.7,375.3 C1067.4,376.3 1070.0,377.6 1072.7,379.3 C1075.4,381.0 1078.0,384.0 1080.7,385.3 C1082.9,386.4 1085.1,387.3 1087.3,387.3 C1090.4,387.3 1093.6,385.9 1096.7,384.7 C1099.8,383.5 1102.9,382.6 1106.0,380.0 C1108.2,378.1 1110.5,376.0 1112.7,372.7 C1114.8,369.6 1116.8,365.5 1118.9,361.3" fill="none" stroke="#1c88cd" stroke-width="4.5" stroke-linejoin="round" stroke-linecap="round"/>
<path d="M121.5,287.5 C126.0,286.7 130.4,286.0 134.9,282.9 C139.0,280.1 143.2,273.9 147.3,269.6 C150.9,265.9 154.4,262.0 158.0,258.9 C161.0,256.3 163.9,252.1 166.9,252.1 C170.5,252.1 174.0,254.4 177.6,254.4 C181.7,254.4 185.9,254.4 190.0,254.4 C193.6,254.4 197.1,251.3 200.7,248.2 C204.2,245.1 207.8,240.0 211.3,235.8 C214.3,232.3 217.2,229.4 220.2,225.1 C223.2,220.8 226.1,213.7 229.1,210.0 C230.9,207.8 232.6,205.2 234.4,204.7 C238.6,203.5 242.7,202.9 246.9,202.9 C250.5,202.9 254.0,203.8 257.6,204.3 C260.5,204.7 263.5,205.6 266.4,205.6 C268.8,205.6 271.2,200.0 273.6,196.7 C276.0,193.5 278.3,186.3 280.7,186.0 C283.1,185.7 285.4,185.6 287.8,185.6 C291.3,185.6 294.9,186.6 298.4,188.7 C300.2,189.8 302.0,191.7 303.8,196.7 C304.7,199.2 305.6,202.2 306.5,206.0 C307.5,210.2 308.5,217.3 309.5,221.0 C310.9,226.0 312.2,226.9 313.6,228.5 C315.4,230.6 317.1,231.6 318.9,231.6 C330.2,231.6 341.4,231.6 352.7,231.6 C355.7,231.6 358.6,230.1 361.6,227.1 C363.4,225.3 365.1,223.6 366.9,219.1 C368.7,214.5 370.5,204.7 372.3,199.6 C374.7,192.9 377.0,187.1 379.4,187.1 C381.8,187.1 384.1,188.1 386.5,189.8 C389.5,191.9 392.4,195.2 395.4,199.6 C397.4,202.5 399.3,206.5 401.3,210.0 C404.3,215.4 407.2,226.6 410.2,226.6 C519.3,226.7 628.5,226.7 737.6,226.8 C742.0,226.8 746.3,230.0 750.7,231.6 C754.2,232.9 757.8,235.3 761.3,235.3 C797.7,235.3 834.1,235.3 870.5,235.3 C870.8,235.3 871.2,234.5 871.5,234.5 C953.7,234.5 1035.8,234.6 1118.0,234.6" fill="none" stroke="#fff" stroke-width="7.6" stroke-linejoin="round"/>
<path d="M121.5,287.5 C126.0,286.7 130.4,286.0 134.9,282.9 C139.0,280.1 143.2,273.9 147.3,269.6 C150.9,265.9 154.4,262.0 158.0,258.9 C161.0,256.3 163.9,252.1 166.9,252.1 C170.5,252.1 174.0,254.4 177.6,254.4 C181.7,254.4 185.9,254.4 190.0,254.4 C193.6,254.4 197.1,251.3 200.7,248.2 C204.2,245.1 207.8,240.0 211.3,235.8 C214.3,232.3 217.2,229.4 220.2,225.1 C223.2,220.8 226.1,213.7 229.1,210.0 C230.9,207.8 232.6,205.2 234.4,204.7 C238.6,203.5 242.7,202.9 246.9,202.9 C250.5,202.9 254.0,203.8 257.6,204.3 C260.5,204.7 263.5,205.6 266.4,205.6 C268.8,205.6 271.2,200.0 273.6,196.7 C276.0,193.5 278.3,186.3 280.7,186.0 C283.1,185.7 285.4,185.6 287.8,185.6 C291.3,185.6 294.9,186.6 298.4,188.7 C300.2,189.8 302.0,191.7 303.8,196.7 C304.7,199.2 305.6,202.2 306.5,206.0 C307.5,210.2 308.5,217.3 309.5,221.0 C310.9,226.0 312.2,226.9 313.6,228.5 C315.4,230.6 317.1,231.6 318.9,231.6 C330.2,231.6 341.4,231.6 352.7,231.6 C355.7,231.6 358.6,230.1 361.6,227.1 C363.4,225.3 365.1,223.6 366.9,219.1 C368.7,214.5 370.5,204.7 372.3,199.6 C374.7,192.9 377.0,187.1 379.4,187.1 C381.8,187.1 384.1,188.1 386.5,189.8 C389.5,191.9 392.4,195.2 395.4,199.6 C397.4,202.5 399.3,206.5 401.3,210.0 C404.3,215.4 407.2,226.6 410.2,226.6 C519.3,226.7 628.5,226.7 737.6,226.8 C742.0,226.8 746.3,230.0 750.7,231.6 C754.2,232.9 757.8,235.3 761.3,235.3 C797.7,235.3 834.1,235.3 870.5,235.3 C870.8,235.3 871.2,234.5 871.5,234.5 C953.7,234.5 1035.8,234.6 1118.0,234.6" fill="none" stroke="#a8141d" stroke-width="5" stroke-linejoin="round" stroke-linecap="round"/>
<circle cx="410.6" cy="139" r="10" fill="#fff" stroke="#1388d0" stroke-width="5"/>
<circle cx="410.2" cy="226.4" r="10" fill="#fff" stroke="#a8141d" stroke-width="5"/>
<circle cx="1117.8" cy="234.8" r="10" fill="#fff" stroke="#a8141d" stroke-width="5"/>
<circle cx="1118.9" cy="361.3" r="10" fill="#fff" stroke="#1388d0" stroke-width="5"/>
<g font-size="36" font-weight="bold" fill="#111" stroke="#fff" stroke-width="4" paint-order="stroke" stroke-linejoin="round">
<text x="411" y="119.3" text-anchor="middle">116</text>
<text x="392" y="279.5" text-anchor="middle">96.7</text>
<text x="1141" y="216" text-anchor="end">94.8</text>
<text x="1141" y="426" text-anchor="end">67.9</text>
</g>
<rect x="734.4" y="502.6" width="47.4" height="18.8" fill="#0588d2"/>
<rect x="734.4" y="553.6" width="47.4" height="19.4" fill="#ac0f1e"/>
<g font-size="32.7" fill="#111">
<text x="791.5" y="523.8" textLength="273" lengthAdjust="spacingAndGlyphs">Oil Price ($/barrel)</text>
<text x="792" y="575.6" textLength="290" lengthAdjust="spacingAndGlyphs">Petrol price (₹/litre)</text>
</g>
</svg>
</body></html>
